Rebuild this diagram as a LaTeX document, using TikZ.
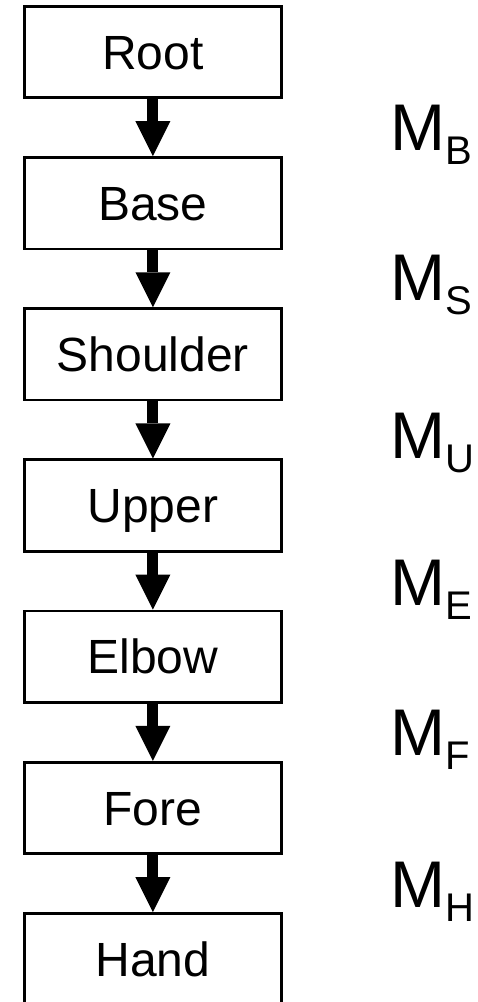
\documentclass[tikz,border=0pt]{standalone}
\usepackage{fontspec}
\setmainfont{Liberation Sans}
\usetikzlibrary{arrows.meta}
\tikzset{
  partbox/.style={draw=black, line width=2.7pt, fill=white, minimum width=256.8pt, minimum height=91.5pt,
    inner sep=0pt, text height=34.4pt, text depth=0pt, font=\fontsize{48}{48}\selectfont},
  chainarrow/.style={line width=11pt, -{Triangle[width=35pt,length=35pt,line width=0pt]}},
  mlabel/.style={anchor=base west, inner sep=0pt, font=\fontsize{66}{66}\selectfont}
}
\newcommand{\msub}[1]{M\raisebox{-14pt}{\fontsize{40}{40}\selectfont #1}}
\begin{document}
\begin{tikzpicture}[x=1pt,y=1pt]
\useasboundingbox (0,0) rectangle (477,-1002);
\node[partbox] (root) at (152.9,-51.95) {Root};
\node[partbox] (base) at (152.9,-203.15) {Base};
\node[partbox] (shoulder) at (152.9,-354.35) {Shoulder};
\node[partbox] (upper) at (152.9,-505.55) {Upper};
\node[partbox] (elbow) at (152.9,-656.75) {Elbow};
\node[partbox] (fore) at (152.9,-807.95) {Fore};
\node[partbox] (hand) at (152.9,-959.15) {Hand};
\draw[chainarrow] (root.south) -- (base.north);
\draw[chainarrow] (base.south) -- (shoulder.north);
\draw[chainarrow] (shoulder.south) -- (upper.north);
\draw[chainarrow] (upper.south) -- (elbow.north);
\draw[chainarrow] (elbow.south) -- (fore.north);
\draw[chainarrow] (fore.south) -- (hand.north);
\node[mlabel] (mb) at (390,-150) {\msub{B}};
\node[mlabel] (ms) at (390,-300) {\msub{S}};
\node[mlabel] (mu) at (390,-458) {\msub{U}};
\node[mlabel] (me) at (390,-605) {\msub{E}};
\node[mlabel] (mf) at (390,-755) {\msub{F}};
\node[mlabel] (mh) at (390,-907) {\msub{H}};
\end{tikzpicture}
\end{document}
